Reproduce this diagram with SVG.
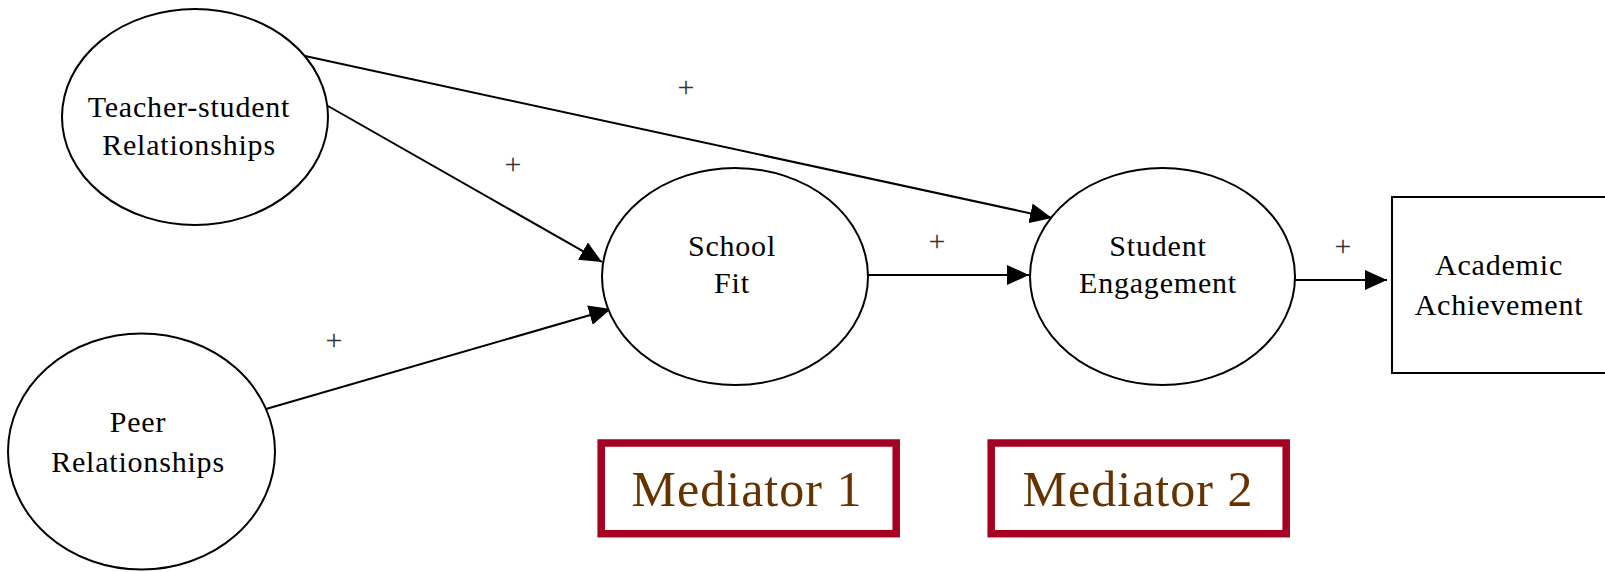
<svg xmlns="http://www.w3.org/2000/svg" width="1605" height="572" viewBox="0 0 1605 572">
<style>
.node{fill:#fff;stroke:#000;stroke-width:2}
.lbl{font-family:"Liberation Serif","Times New Roman",serif;font-size:30px;letter-spacing:0.8px;fill:#000;text-anchor:middle}
.plus{font-family:"Liberation Serif","Times New Roman",serif;font-size:30px;fill:#333;text-anchor:middle}
.edge{stroke:#000;stroke-width:2;fill:none;marker-end:url(#arr)}
.med{fill:#fff;stroke:#A50021;stroke-width:7.5}
.medt{font-family:"Liberation Serif","Times New Roman",serif;font-size:50px;letter-spacing:1px;fill:#663300;text-anchor:middle}
</style>
<defs>
<marker id="arr" markerUnits="userSpaceOnUse" markerWidth="22" markerHeight="20" refX="22" refY="10" orient="auto" viewBox="0 0 22 20">
<path d="M0,0 L22,10 L0,20 z" fill="#000"/>
</marker>
</defs>
<rect width="1605" height="572" fill="#fff"/>
<g id="connectors">
<line class="edge" x1="305" y1="56" x2="1052" y2="218"/>
<line class="edge" x1="328" y1="106" x2="602" y2="262"/>
<line class="edge" x1="266" y1="409" x2="611" y2="309"/>
<line class="edge" x1="868" y1="275" x2="1029" y2="275"/>
<line class="edge" x1="1295" y1="280" x2="1387" y2="280"/>
<text class="plus" x="686" y="97">+</text>
<text class="plus" x="513" y="174">+</text>
<text class="plus" x="937" y="251">+</text>
<text class="plus" x="1343" y="256">+</text>
<text class="plus" x="334" y="350">+</text>
</g>
<g id="teacher">
<ellipse class="node" cx="195" cy="117" rx="133" ry="108"/>
<text class="lbl" x="189" y="117">Teacher-student</text>
<text class="lbl" x="189" y="155">Relationships</text>
</g>
<g id="peer">
<ellipse class="node" cx="141.5" cy="451.5" rx="133.5" ry="118"/>
<text class="lbl" x="138" y="432">Peer</text>
<text class="lbl" x="138" y="472">Relationships</text>
</g>
<g id="schoolfit">
<ellipse class="node" cx="735" cy="276.5" rx="133" ry="108.5"/>
<text class="lbl" x="732" y="256">School</text>
<text class="lbl" x="732" y="293">Fit</text>
</g>
<g id="engagement">
<ellipse class="node" cx="1162.5" cy="276.5" rx="132.5" ry="108.5"/>
<text class="lbl" x="1158" y="256">Student</text>
<text class="lbl" x="1158" y="293">Engagement</text>
</g>
<g id="achievement">
<rect class="node" x="1392" y="197" width="220" height="176"/>
<text class="lbl" x="1499" y="275">Academic</text>
<text class="lbl" x="1499" y="315">Achievement</text>
</g>
<g id="mediator1">
<rect class="med" x="601.2" y="443" width="295" height="90.7"/>
<text class="medt" x="747" y="506">Mediator 1</text>
</g>
<g id="mediator2">
<rect class="med" x="991.2" y="443" width="295" height="90.7"/>
<text class="medt" x="1138" y="506">Mediator 2</text>
</g>
</svg>
